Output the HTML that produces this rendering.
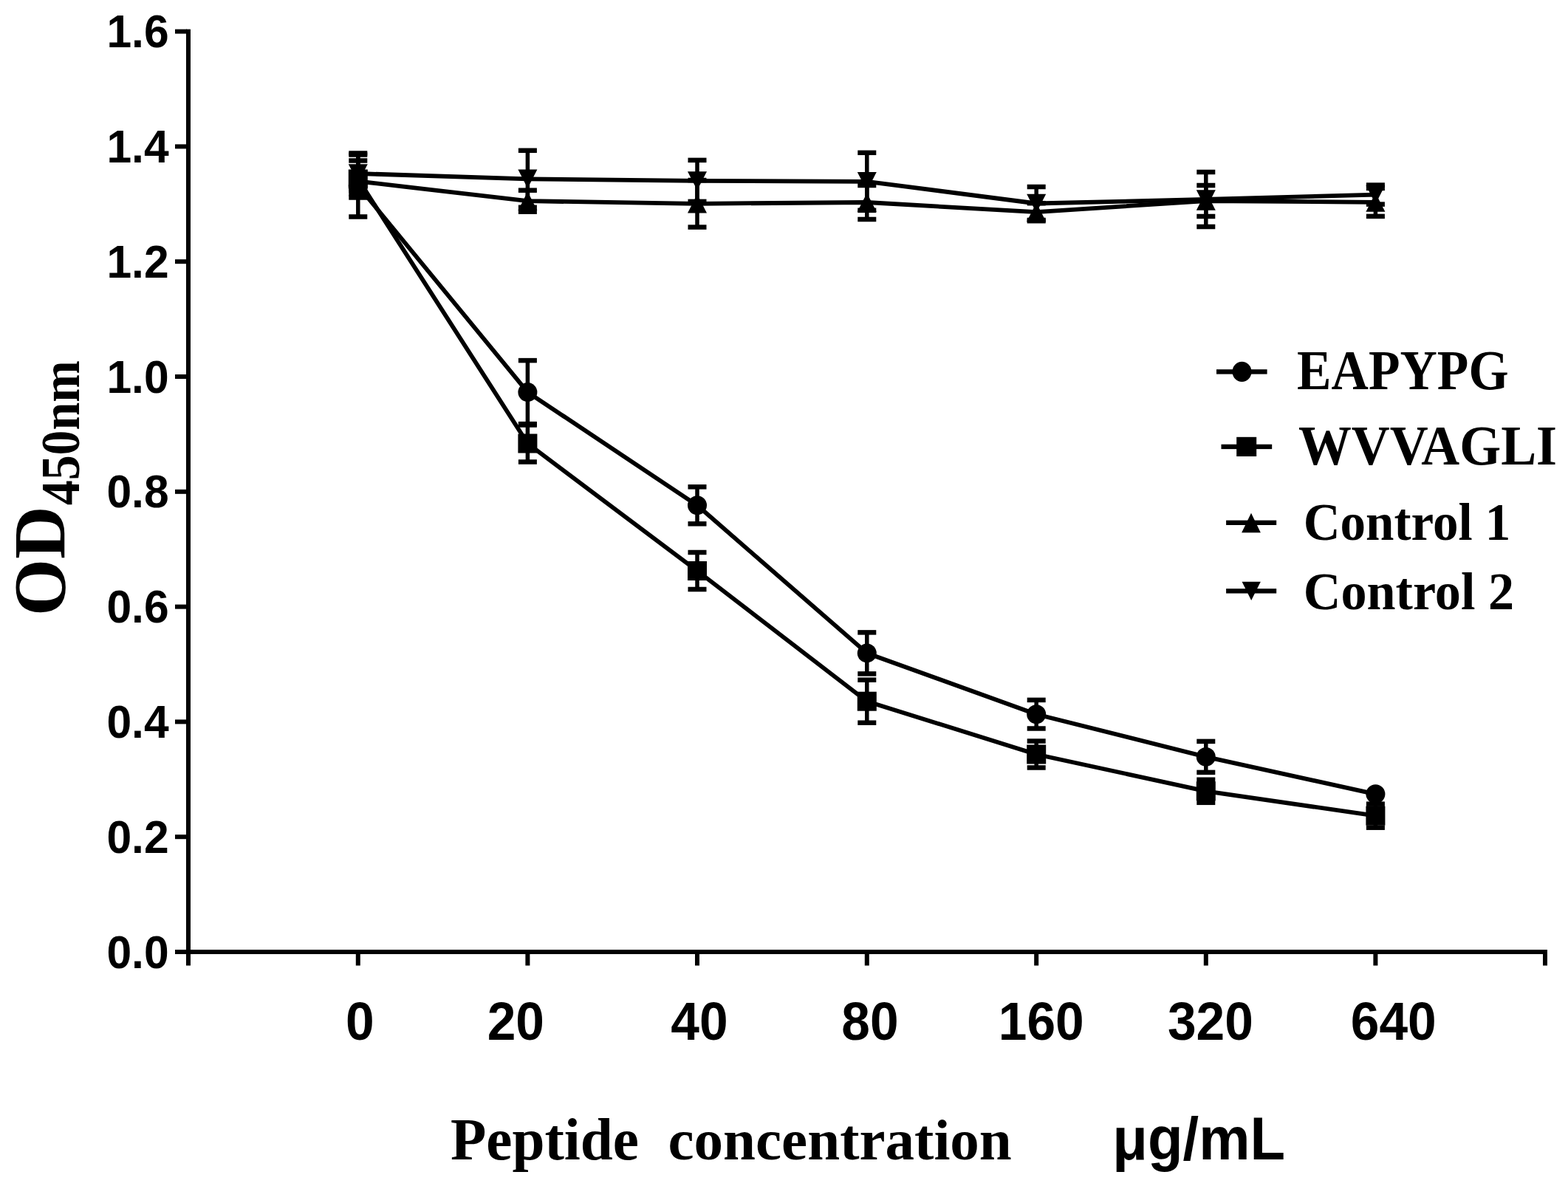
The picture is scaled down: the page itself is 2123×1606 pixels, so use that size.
<!DOCTYPE html>
<html><head><meta charset="utf-8"><title>OD450nm vs Peptide concentration</title>
<style>
html,body{margin:0;padding:0;background:#fff;}
body{width:2123px;height:1606px;overflow:hidden;}
svg{display:block;}
text{font-weight:bold;fill:#000;}
</style></head>
<body>
<svg width="2123" height="1606" viewBox="0 0 2123 1606">
<rect width="2123" height="1606" fill="#fff"/>
<g fill="#000">
<rect x="252" y="39.6" width="6" height="1267.9"/>
<rect x="252" y="1286" width="1843" height="6"/>
<rect x="237" y="1286" width="16" height="6"/>
<rect x="237" y="1130.2" width="16" height="6"/>
<rect x="237" y="974.4" width="16" height="6"/>
<rect x="237" y="818.6" width="16" height="6"/>
<rect x="237" y="662.8" width="16" height="6"/>
<rect x="237" y="507" width="16" height="6"/>
<rect x="237" y="351.2" width="16" height="6"/>
<rect x="237" y="195.4" width="16" height="6"/>
<rect x="237" y="39.6" width="16" height="6"/>
<rect x="481.8" y="1289" width="6" height="18.5"/>
<rect x="711.4" y="1289" width="6" height="18.5"/>
<rect x="941" y="1289" width="6" height="18.5"/>
<rect x="1170.8" y="1289" width="6" height="18.5"/>
<rect x="1400.2" y="1289" width="6" height="18.5"/>
<rect x="1629.8" y="1289" width="6" height="18.5"/>
<rect x="1859.4" y="1289" width="6" height="18.5"/>
<rect x="2089" y="1289" width="6" height="18.5"/>
</g>
<polyline points="484.8,251.5 714.4,531.1 944,684.3 1173.8,884.4 1403.2,967.2 1632.8,1024.9 1862.4,1075.3" fill="none" stroke="#000" stroke-width="5.8" stroke-linejoin="round"/>
<polyline points="484.8,242.5 714.4,600.5 944,773 1173.8,949.7 1403.2,1021.5 1632.8,1071.3 1862.4,1104.7" fill="none" stroke="#000" stroke-width="5.8" stroke-linejoin="round"/>
<polyline points="484.8,245.5 714.4,272.2 944,275.8 1173.8,274 1403.2,287.2 1632.8,272 1862.4,273.9" fill="none" stroke="#000" stroke-width="5.8" stroke-linejoin="round"/>
<polyline points="484.8,235 714.4,242.3 944,244.9 1173.8,245.8 1403.2,275.5 1632.8,270 1862.4,263.6" fill="none" stroke="#000" stroke-width="5.8" stroke-linejoin="round"/>
<g fill="#000">
<rect x="482.05" y="209.5" width="5.5" height="84"/><rect x="472.3" y="206.25" width="25" height="6.5"/><rect x="472.3" y="290.25" width="25" height="6.5"/>
<rect x="711.65" y="488.1" width="5.5" height="86"/><rect x="701.9" y="484.85" width="25" height="6.5"/><rect x="701.9" y="570.85" width="25" height="6.5"/>
<rect x="941.25" y="659.3" width="5.5" height="50"/><rect x="931.5" y="656.05" width="25" height="6.5"/><rect x="931.5" y="706.05" width="25" height="6.5"/>
<rect x="1171.05" y="856.4" width="5.5" height="56"/><rect x="1161.3" y="853.15" width="25" height="6.5"/><rect x="1161.3" y="909.15" width="25" height="6.5"/>
<rect x="1400.45" y="947.9" width="5.5" height="38.6"/><rect x="1390.7" y="944.65" width="25" height="6.5"/><rect x="1390.7" y="983.25" width="25" height="6.5"/>
<rect x="1630.05" y="1003.9" width="5.5" height="42"/><rect x="1620.3" y="1000.65" width="25" height="6.5"/><rect x="1620.3" y="1042.65" width="25" height="6.5"/>
<rect x="482.05" y="217.5" width="5.5" height="50"/><rect x="472.3" y="214.25" width="25" height="6.5"/><rect x="472.3" y="264.25" width="25" height="6.5"/>
<rect x="711.65" y="575.5" width="5.5" height="50"/><rect x="701.9" y="572.25" width="25" height="6.5"/><rect x="701.9" y="622.25" width="25" height="6.5"/>
<rect x="941.25" y="748" width="5.5" height="50"/><rect x="931.5" y="744.75" width="25" height="6.5"/><rect x="931.5" y="794.75" width="25" height="6.5"/>
<rect x="1171.05" y="920.7" width="5.5" height="58"/><rect x="1161.3" y="917.45" width="25" height="6.5"/><rect x="1161.3" y="975.45" width="25" height="6.5"/>
<rect x="1400.45" y="1003.5" width="5.5" height="36"/><rect x="1390.7" y="1000.25" width="25" height="6.5"/><rect x="1390.7" y="1036.25" width="25" height="6.5"/>
<rect x="1630.05" y="1055.8" width="5.5" height="31"/><rect x="1620.3" y="1052.55" width="25" height="6.5"/><rect x="1620.3" y="1083.55" width="25" height="6.5"/>
<rect x="1859.65" y="1088.7" width="5.5" height="32"/><rect x="1849.9" y="1085.45" width="25" height="6.5"/><rect x="1849.9" y="1117.45" width="25" height="6.5"/>
<rect x="482.05" y="233.5" width="5.5" height="24"/><rect x="472.3" y="230.25" width="25" height="6.5"/><rect x="472.3" y="254.25" width="25" height="6.5"/>
<rect x="711.65" y="257.7" width="5.5" height="29"/><rect x="701.9" y="254.45" width="25" height="6.5"/><rect x="701.9" y="283.45" width="25" height="6.5"/>
<rect x="941.25" y="244" width="5.5" height="63.6"/><rect x="931.5" y="240.75" width="25" height="6.5"/><rect x="931.5" y="304.35" width="25" height="6.5"/>
<rect x="1171.05" y="251" width="5.5" height="46"/><rect x="1161.3" y="247.75" width="25" height="6.5"/><rect x="1161.3" y="293.75" width="25" height="6.5"/>
<rect x="1400.45" y="275.2" width="5.5" height="24"/><rect x="1390.7" y="271.95" width="25" height="6.5"/><rect x="1390.7" y="295.95" width="25" height="6.5"/>
<rect x="1630.05" y="251" width="5.5" height="42"/><rect x="1620.3" y="247.75" width="25" height="6.5"/><rect x="1620.3" y="289.75" width="25" height="6.5"/>
<rect x="1859.65" y="254.9" width="5.5" height="38"/><rect x="1849.9" y="251.65" width="25" height="6.5"/><rect x="1849.9" y="289.65" width="25" height="6.5"/>
<rect x="482.05" y="207.5" width="5.5" height="55"/><rect x="472.3" y="204.25" width="25" height="6.5"/><rect x="472.3" y="259.25" width="25" height="6.5"/>
<rect x="711.65" y="203.8" width="5.5" height="77"/><rect x="701.9" y="200.55" width="25" height="6.5"/><rect x="701.9" y="277.55" width="25" height="6.5"/>
<rect x="941.25" y="216.9" width="5.5" height="56"/><rect x="931.5" y="213.65" width="25" height="6.5"/><rect x="931.5" y="269.65" width="25" height="6.5"/>
<rect x="1171.05" y="206.8" width="5.5" height="78"/><rect x="1161.3" y="203.55" width="25" height="6.5"/><rect x="1161.3" y="281.55" width="25" height="6.5"/>
<rect x="1400.45" y="253" width="5.5" height="45"/><rect x="1390.7" y="249.75" width="25" height="6.5"/><rect x="1390.7" y="294.75" width="25" height="6.5"/>
<rect x="1630.05" y="233" width="5.5" height="74"/><rect x="1620.3" y="229.75" width="25" height="6.5"/><rect x="1620.3" y="303.75" width="25" height="6.5"/>
<rect x="1859.65" y="250.6" width="5.5" height="26"/><rect x="1849.9" y="247.35" width="25" height="6.5"/><rect x="1849.9" y="273.35" width="25" height="6.5"/>
<ellipse cx="484.8" cy="251.5" rx="13" ry="13"/>
<ellipse cx="714.4" cy="531.1" rx="13" ry="13"/>
<ellipse cx="944" cy="684.3" rx="13" ry="13"/>
<ellipse cx="1173.8" cy="884.4" rx="13" ry="13"/>
<ellipse cx="1403.2" cy="967.2" rx="13" ry="13"/>
<ellipse cx="1632.8" cy="1024.9" rx="13" ry="13"/>
<ellipse cx="1862.4" cy="1075.3" rx="13" ry="13"/>
<rect x="471.8" y="229.5" width="26" height="26"/>
<rect x="701.4" y="587.5" width="26" height="26"/>
<rect x="931" y="760" width="26" height="26"/>
<rect x="1160.8" y="936.7" width="26" height="26"/>
<rect x="1390.2" y="1008.5" width="26" height="26"/>
<rect x="1619.8" y="1058.3" width="26" height="26"/>
<rect x="1849.4" y="1091.7" width="26" height="26"/>
<polygon points="484.8,232.75 497.8,258.25 471.8,258.25"/>
<polygon points="714.4,259.45 727.4,284.95 701.4,284.95"/>
<polygon points="944,263.05 957,288.55 931,288.55"/>
<polygon points="1173.8,261.25 1186.8,286.75 1160.8,286.75"/>
<polygon points="1403.2,274.45 1416.2,299.95 1390.2,299.95"/>
<polygon points="1632.8,259.25 1645.8,284.75 1619.8,284.75"/>
<polygon points="1862.4,261.15 1875.4,286.65 1849.4,286.65"/>
<polygon points="471.8,222.25 497.8,222.25 484.8,247.75"/>
<polygon points="701.4,229.55 727.4,229.55 714.4,255.05"/>
<polygon points="931,232.15 957,232.15 944,257.65"/>
<polygon points="1160.8,233.05 1186.8,233.05 1173.8,258.55"/>
<polygon points="1390.2,262.75 1416.2,262.75 1403.2,288.25"/>
<polygon points="1619.8,257.25 1645.8,257.25 1632.8,282.75"/>
<polygon points="1849.4,250.85 1875.4,250.85 1862.4,276.35"/>
</g>
<g fill="#000">
<rect x="1647" y="500.2" width="68.6" height="6.4"/>
<ellipse cx="1681.5" cy="503.4" rx="13" ry="13.6"/>
<rect x="1653.5" y="601.7" width="68.7" height="6.4"/>
<rect x="1674.2" y="591.8" width="27" height="26.2"/>
<rect x="1660.1" y="704.6" width="68.1" height="6.4"/>
<polygon points="1694,694.5 1706.85,721.1 1681.15,721.1" transform="translate(0,0.2)"/>
<rect x="1660.1" y="797.1" width="68.1" height="6.4"/>
<polygon points="1681.55,787.7 1706.85,787.7 1694.2,812.9"/>
</g>
<text transform="translate(1756.09 526.81) scale(0.9681 1.0563)" font-family='"Liberation Serif",serif' font-size="72">EAPYPG</text>
<text transform="translate(1757.9 628.91) scale(0.9986 1.0544)" font-family='"Liberation Serif",serif' font-size="72">WVVAGLI</text>
<text transform="translate(1764.74 731.34) scale(0.9590 1.0069)" font-family='"Liberation Serif",serif' font-size="72">Control 1</text>
<text transform="translate(1764.69 824.74) scale(0.9751 1.0069)" font-family='"Liberation Serif",serif' font-size="72">Control 2</text>
<text transform="translate(609.89 1570.04) scale(0.9542 0.9568)" font-family='"Liberation Serif",serif' font-size="83">Peptide</text>
<text transform="translate(904.46 1569.88) scale(0.9525 0.9542)" font-family='"Liberation Serif",serif' font-size="83">concentration</text>
<text transform="translate(1506.32 1570.1) scale(0.9737 1.0120)" font-family='"Liberation Sans",sans-serif' font-size="80">&#956;g/mL</text>
<text transform="translate(87.37 833.92) rotate(-90) scale(1.0424 1.0573)" font-family='"Liberation Serif",serif' font-size="95">OD</text>
<text transform="translate(106.64 684.27) rotate(-90) scale(0.9700 1.0483)" font-family='"Liberation Serif",serif' font-size="70">450nm</text>
<text transform="translate(228.6 1310.5) scale(1 1.033)" font-family='"Liberation Sans",sans-serif' font-size="60.6" text-anchor="end">0.0</text>
<text transform="translate(228.6 1154.7) scale(1 1.033)" font-family='"Liberation Sans",sans-serif' font-size="60.6" text-anchor="end">0.2</text>
<text transform="translate(228.6 998.9) scale(1 1.033)" font-family='"Liberation Sans",sans-serif' font-size="60.6" text-anchor="end">0.4</text>
<text transform="translate(228.6 843.1) scale(1 1.033)" font-family='"Liberation Sans",sans-serif' font-size="60.6" text-anchor="end">0.6</text>
<text transform="translate(228.6 687.3) scale(1 1.033)" font-family='"Liberation Sans",sans-serif' font-size="60.6" text-anchor="end">0.8</text>
<text transform="translate(228.6 531.5) scale(1 1.033)" font-family='"Liberation Sans",sans-serif' font-size="60.6" text-anchor="end">1.0</text>
<text transform="translate(228.6 375.7) scale(1 1.033)" font-family='"Liberation Sans",sans-serif' font-size="60.6" text-anchor="end">1.2</text>
<text transform="translate(228.6 219.9) scale(1 1.033)" font-family='"Liberation Sans",sans-serif' font-size="60.6" text-anchor="end">1.4</text>
<text transform="translate(228.6 64.1) scale(1 1.033)" font-family='"Liberation Sans",sans-serif' font-size="60.6" text-anchor="end">1.6</text>
<text transform="translate(487.2 1408.2) scale(1 1.05)" font-family='"Liberation Sans",sans-serif' font-size="69.5" text-anchor="middle">0</text>
<text transform="translate(698.3 1408.2) scale(1 1.05)" font-family='"Liberation Sans",sans-serif' font-size="69.5" text-anchor="middle">20</text>
<text transform="translate(947 1408.2) scale(1 1.05)" font-family='"Liberation Sans",sans-serif' font-size="69.5" text-anchor="middle">40</text>
<text transform="translate(1178 1408.2) scale(1 1.05)" font-family='"Liberation Sans",sans-serif' font-size="69.5" text-anchor="middle">80</text>
<text transform="translate(1409.7 1408.2) scale(1 1.05)" font-family='"Liberation Sans",sans-serif' font-size="69.5" text-anchor="middle">160</text>
<text transform="translate(1638.9 1408.2) scale(1 1.05)" font-family='"Liberation Sans",sans-serif' font-size="69.5" text-anchor="middle">320</text>
<text transform="translate(1886.7 1408.2) scale(1 1.05)" font-family='"Liberation Sans",sans-serif' font-size="69.5" text-anchor="middle">640</text>
</svg>
</body></html>
